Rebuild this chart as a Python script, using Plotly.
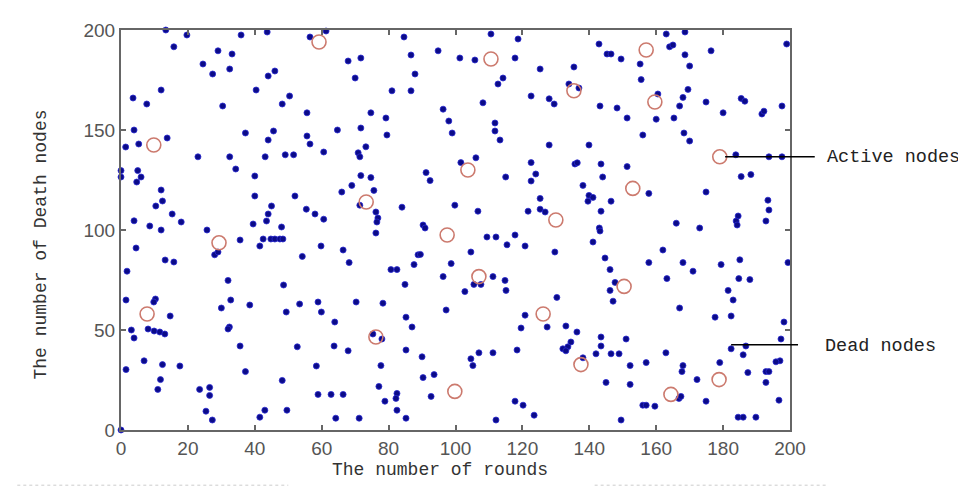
import plotly.graph_objects as go

# dead nodes (blue dots) as (round, death nodes)
dead_nodes = [
    (13.4, 200), (19.7, 197.5), (15.8, 191.6), (35.9, 197.5), (43.7, 199), (29, 189.6), (33.2, 188),
    (24.5, 183), (27.4, 178), (32.5, 180.5), (44, 177), (46, 179.5), (56.5, 196.5), (61.3, 199.5),
    (3.6, 166), (7.7, 163), (12, 170), (40.4, 170), (30.4, 162), (48.2, 163), (50.4, 167), (55.6, 158.6),
    (3.9, 150), (5.3, 143), (1.4, 141.5), (13.8, 146), (23, 136.6), (32.5, 136.6), (37.2, 148.5),
    (43.1, 136.6), (44, 145), (45.6, 149.5), (49.1, 137.6), (51.6, 137.6), (55.6, 147), (56.5, 143),
    (60.6, 139), (64.7, 150), (0, 129.7), (0, 126.5), (5, 129.7), (6, 126.5), (4.7, 124), (34.3, 130.5),
    (40, 127), (12, 120), (12.4, 114.5), (10.4, 112), (15.3, 108), (18, 104), (3.9, 104.6), (8.6, 102),
    (12, 100), (25.7, 100), (40, 117), (45, 112), (44, 108), (43.5, 104.5), (39.5, 103), (48, 101.5),
    (52, 117), (55.4, 110.4), (58, 108), (60.6, 105.4),
    (84.6, 196.5), (110.6, 198), (118.7, 195.5), (142.9, 193), (145.3, 188), (146.5, 188), (149.5, 185.5),
    (67.9, 184.5), (71.7, 186), (70, 176), (86.7, 187.5), (87.9, 178), (94.8, 189.6), (101.3, 186),
    (105.8, 185), (117.8, 186), (81, 169.6), (86.7, 169.6), (112.7, 173), (114.2, 176), (125.3, 180.5),
    (135.4, 181.5), (133.9, 173), (136.9, 171), (108.2, 163.6), (122.6, 167), (128, 165.6), (129.5, 163),
    (143.2, 162), (148.3, 161), (151.3, 156), (74.7, 158.6), (79.2, 156), (96.3, 160.4), (98, 154.5),
    (99, 148.5), (111.8, 153.5), (111.8, 149.5), (113.3, 145), (71.7, 151), (79.5, 147.5), (73.2, 141.6),
    (70.9, 138.6), (71.4, 136.6), (128, 142.5), (139.9, 142.5), (151.3, 131.7), (122.6, 133.7),
    (135.7, 133), (136.4, 133.6), (143.5, 133), (144, 126.5), (106.1, 136.1), (101.6, 133.7), (124, 128),
    (122.6, 124.5), (115, 126.5), (91.2, 128.7), (92.4, 124.7), (71.7, 127.2), (74.7, 126.2), (69, 122.3),
    (66, 119), (75.6, 119.8), (71.4, 112.4), (76.2, 109), (76.8, 106), (76.5, 104), (84, 111.4),
    (99.8, 112.4), (106.7, 109.4), (121.7, 109.4), (125.3, 115.8), (125.3, 110.4), (126.8, 109),
    (138.1, 122.3), (139.9, 117.3), (141.1, 116.3), (139.6, 114.4), (146.5, 114.4), (143.5, 109.4),
    (90.3, 102.5), (90.9, 101), (143, 101),
    (163, 198), (168.6, 199), (164, 191.6), (165, 192.5), (168.6, 187.6), (170, 182), (176.4, 189.6),
    (155.2, 183), (155.5, 175.2), (199, 193), (160.5, 168), (169.5, 170.3), (168, 166.3), (167, 162),
    (160, 155.4), (165.3, 156), (174.9, 164), (180, 158.6), (185.4, 165.8), (186.5, 164.4), (191.6, 158),
    (192.2, 159.4), (197.6, 162), (156, 147.5), (168.3, 148.5), (170, 144.5), (183.8, 137.6),
    (193.7, 136.6), (197.6, 136.6), (185.4, 126.7), (188.3, 127.7), (157.8, 118.3), (174.9, 119),
    (193.4, 114.9), (193.7, 110), (192.8, 104.5), (184.5, 107), (183.9, 104.5), (184.2, 102.5),
    (166, 103.4), (173, 101),
    (4.5, 91), (1.8, 79.4), (28, 87.6), (29, 89), (35.6, 95), (41.5, 92), (42.5, 95.5), (44.8, 95.5),
    (46, 95.5), (47.5, 95.5), (48.4, 95.5), (59.8, 92), (13.2, 85), (15.8, 84), (54.2, 86.8), (48.6, 72.5),
    (32, 74.8), (1.5, 65), (10.3, 65.5), (9.8, 64), (32.8, 65), (30, 61), (38.5, 62.5), (49.4, 59),
    (53.4, 63), (58.9, 64), (59.9, 59), (63.9, 54), (14.7, 57), (3.1, 50), (3.9, 46), (8.1, 50.5),
    (9.9, 49.5), (11.6, 49), (13.1, 48), (32.4, 51.5), (32, 50.5), (35.6, 42), (52.7, 41.6), (63.7, 42),
    (1.5, 30.2), (6.9, 34.6), (12.4, 32.7), (17.6, 32), (37.2, 29.2), (58.4, 32), (11.8, 25.2), (11, 20.3),
    (23.5, 20.3), (26.5, 21.3), (26.5, 17.3), (48.2, 24.8), (58.9, 17.8), (62.8, 17.8), (25.4, 9.4),
    (27.3, 5), (41.5, 6.4), (43, 9.9), (49.6, 9.9), (64.2, 5.9), (0, 0),
    (76.2, 98.5), (66.4, 90), (68.2, 83.7), (80.7, 80.2), (82.5, 80.2), (84.9, 72.8), (87.6, 82.7),
    (88.8, 87.6), (89.5, 87.8), (96.3, 76.7), (98.7, 83.2), (104.6, 89), (105.5, 72.8), (107.6, 72.8),
    (102.8, 69.2), (109.4, 96.5), (112.1, 96.5), (115.4, 92.6), (117.8, 97.5), (120.8, 92), (111.2, 76.7),
    (114.8, 74.8), (115.1, 69.8), (97.2, 60), (129.7, 89), (130.3, 66.3), (120.8, 57.4), (119.6, 51),
    (127.4, 51.5), (118.4, 40), (111.2, 38.6), (107, 38.6), (104.6, 35.6), (105.2, 32.2), (92.7, 16.8),
    (90.3, 26.2), (93.6, 27.7), (90, 36.6), (85.2, 40), (85.2, 56.4), (87, 51.5), (78.3, 63.4), (70.3, 64),
    (75.3, 48), (78, 45.5), (67.9, 39.6), (77.7, 32.2), (77.1, 21.8), (78.9, 14.4), (82.5, 18.3),
    (82.2, 15.8), (82.5, 9.9), (85.2, 5.9), (66.4, 17.8), (71.2, 5.9), (112.1, 5), (117.8, 14.4),
    (120.2, 12.4), (123.5, 7.4), (133, 52), (136.3, 49), (132.1, 40.6), (133.6, 41.6), (134.5, 44),
    (133, 39.6), (138.1, 36.1), (141.1, 94), (143.2, 99.5), (144.7, 86), (146.2, 80.2), (146.2, 69.8),
    (147.7, 73.8), (147.1, 64.4), (151, 45.5), (143.5, 46.5), (143.5, 42), (142, 38.1), (146.5, 38.1),
    (148.9, 38.1), (152.2, 32.2), (145, 23.8), (152.2, 22.8), (149.5, 5),
    (162, 90), (157.8, 83.7), (168, 83.7), (171, 79.4), (163.2, 75.7), (179.4, 82.7), (185, 85.1),
    (184.7, 75.7), (188, 75.2), (181.5, 69.8), (183, 65), (199.4, 83.7), (167, 61), (177.6, 56.4),
    (182.4, 57), (198.2, 54), (197.3, 45.5), (182.4, 40.6), (186.8, 42), (186, 37.6), (162.9, 38.6),
    (157, 33.7), (168, 32.2), (167.7, 29.2), (179, 33.7), (197, 34.6), (195.8, 34.1), (187.4, 28.7),
    (192.8, 29.2), (193.7, 29.2), (192.8, 23.8), (172.2, 25.2), (166.8, 15.8), (167.4, 16.8),
    (174.9, 14.4), (156, 12.4), (157, 12.4), (159.6, 11.9), (184.5, 6.4), (186, 6.4), (189.8, 6.4),
    (196.7, 14.9),
]

# active nodes (red open circles)
active_nodes = [
    (59.2, 194), (9.8, 142.5), (110.6, 185.5), (135.4, 169.6), (103.7, 130), (73.3, 114), (130, 105),
    (153, 120.8), (97.5, 97.5), (157, 190), (159.6, 164), (179, 136.6), (29.3, 93.6), (7.8, 58),
    (107, 76.7), (126.2, 58), (99.8, 19.3), (76.2, 46.5), (137.5, 32.7), (150.4, 71.8), (178.8, 25.2),
    (164.4, 17.8),
]

x_ticks = [0, 20, 40, 60, 80, 100, 120, 140, 160, 180, 200]
y_ticks = [0, 50, 100, 150, 200]

dead_x = [p[0] for p in dead_nodes]
dead_y = [p[1] for p in dead_nodes]
act_x = [p[0] for p in active_nodes]
act_y = [p[1] for p in active_nodes]

txt_font = "Liberation Mono, Courier New, monospace"
tick_font = dict(family="Liberation Sans Narrow, Arial Narrow, Liberation Sans, Arial", size=19, color="#555555")

fig = go.Figure()
fig.add_trace(go.Scatter(x=dead_x, y=dead_y, mode="markers", name="Dead nodes", cliponaxis=False,
                         marker=dict(size=6, color="#0b0b88", line=dict(width=0.8, color="#2a2ad0"))))
fig.add_trace(go.Scatter(x=act_x, y=act_y, mode="markers", name="Active nodes", cliponaxis=False,
                         marker=dict(size=14, symbol="circle-open", color="#cc7a6e", line=dict(width=1.6))))

axis_common = dict(showline=True, linecolor="#666666", linewidth=2, mirror="ticks", ticks="inside",
                   ticklen=5, tickwidth=1.5, tickcolor="#666666", showgrid=False, zeroline=False,
                   tickfont=tick_font)
fig.update_xaxes(range=[0, 200], tickvals=x_ticks, **axis_common)
fig.update_yaxes(range=[0, 200], tickvals=y_ticks, **axis_common)

fig.update_layout(
    width=966, height=488,
    margin=dict(l=113, r=184, t=18, b=66),
    paper_bgcolor="white", plot_bgcolor="white",
    showlegend=False,
    shapes=[
        dict(type="line", xref="paper", yref="paper", x0=0.903, x1=1.037, y0=0.683, y1=0.683,
             line=dict(color="black", width=1.5)),
        dict(type="line", xref="paper", yref="paper", x0=0.912, x1=1.012, y0=0.213, y1=0.213,
             line=dict(color="black", width=1.5)),
        dict(type="line", xref="paper", yref="paper", x0=-0.155, x1=0.25, y0=-0.138, y1=-0.138,
             line=dict(color="#cccccc", width=1, dash="dot")),
        dict(type="line", xref="paper", yref="paper", x0=0.708, x1=1.054, y0=-0.138, y1=-0.138,
             line=dict(color="#cccccc", width=1, dash="dot")),
    ],
    annotations=[
        dict(text="Active nodes", xref="paper", yref="paper", x=1.052, y=0.681, xanchor="left",
             yanchor="middle", showarrow=False, font=dict(family=txt_font, size=18.5, color="#222222")),
        dict(text="Dead nodes", xref="paper", yref="paper", x=1.049, y=0.208, xanchor="left",
             yanchor="middle", showarrow=False, font=dict(family=txt_font, size=18.5, color="#222222")),
        dict(text="The number of rounds", xref="paper", yref="paper", x=0.477, y=-0.101,
             xanchor="center", yanchor="middle", showarrow=False,
             font=dict(family=txt_font, size=18, color="#333333")),
        dict(text="The number of Death nodes", xref="paper", yref="paper", x=-0.12, y=0.463,
             xanchor="center", yanchor="middle", showarrow=False, textangle=-90,
             font=dict(family=txt_font, size=18, color="#333333")),
    ],
)

fig.write_html("out.html")
